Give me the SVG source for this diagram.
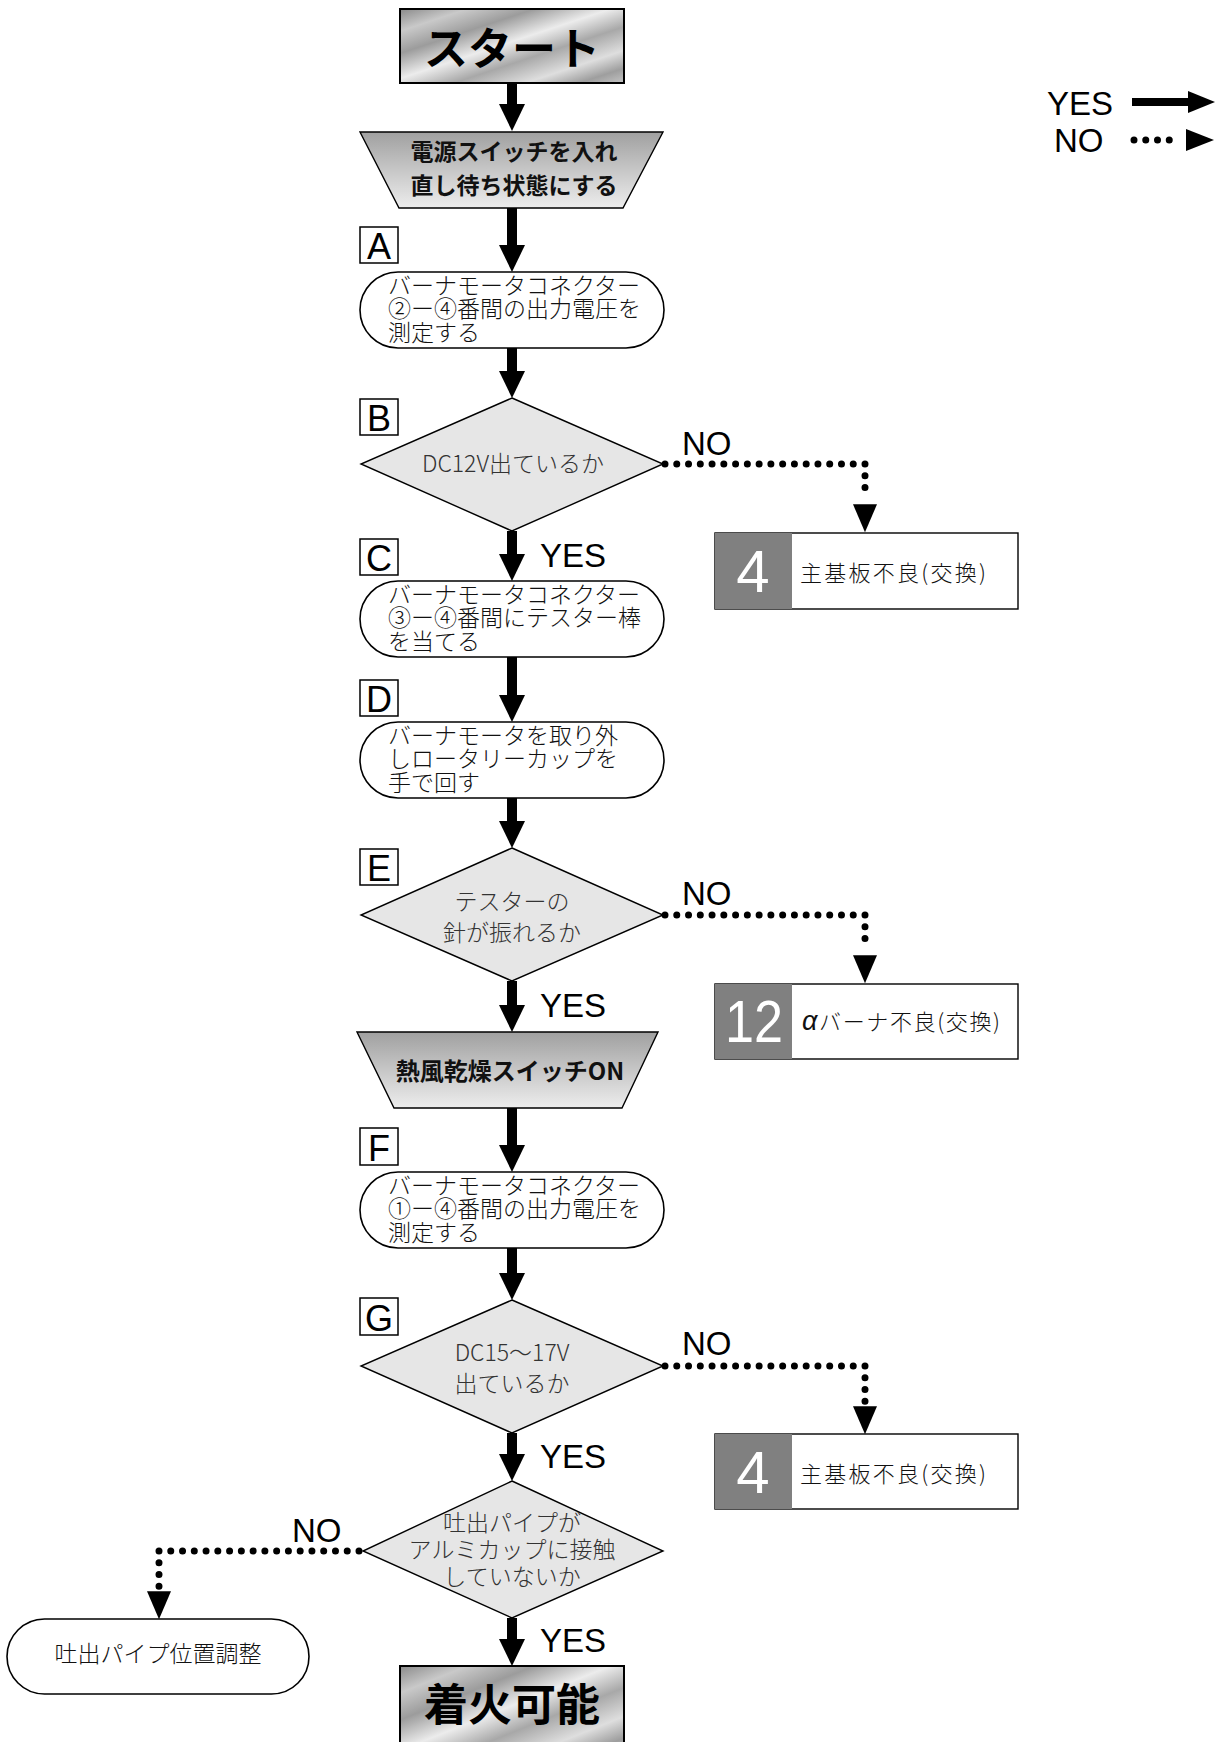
<svg xmlns="http://www.w3.org/2000/svg" width="1223" height="1742" viewBox="0 0 1223 1742">
<defs>
<linearGradient id="metal" x1="0" y1="0" x2="1" y2="1">
<stop offset="0" stop-color="#8a8a8a"/>
<stop offset="0.15" stop-color="#c9c9c9"/>
<stop offset="0.3" stop-color="#9c9c9c"/>
<stop offset="0.47" stop-color="#ececec"/>
<stop offset="0.62" stop-color="#a8a8a8"/>
<stop offset="0.78" stop-color="#dedede"/>
<stop offset="0.9" stop-color="#9e9e9e"/>
<stop offset="1" stop-color="#c4c4c4"/>
</linearGradient>
<linearGradient id="trap" x1="0" y1="0" x2="0" y2="1">
<stop offset="0" stop-color="#a0a0a0"/>
<stop offset="1" stop-color="#ededed"/>
</linearGradient>
<marker id="ah" markerUnits="userSpaceOnUse" markerWidth="30" markerHeight="28" refX="1" refY="13" orient="auto" overflow="visible"><path d="M0,0 L27,13 L0,26 z" fill="#000"/></marker>
<marker id="dh" markerUnits="userSpaceOnUse" markerWidth="30" markerHeight="26" refX="-5" refY="12" orient="auto" overflow="visible"><path d="M0,0 L28,12 L0,24 z" fill="#000"/></marker>
<marker id="ahs" markerUnits="userSpaceOnUse" markerWidth="30" markerHeight="24" refX="1" refY="11" orient="auto" overflow="visible"><path d="M0,0 L27,11 L0,22 z" fill="#000"/></marker>
<marker id="dhs" markerUnits="userSpaceOnUse" markerWidth="30" markerHeight="24" refX="-5" refY="11" orient="auto" overflow="visible"><path d="M0,0 L28,11 L0,22 z" fill="#000"/></marker>
</defs>
<style>
.jp{font-family:"Noto Sans CJK JP","Noto Sans",sans-serif;}
.lat{font-family:"Liberation Sans",Arial,sans-serif;}
.pill{fill:#fff;stroke:#000;stroke-width:1.6;}
.dia{fill:#e6e6e6;stroke:#000;stroke-width:1.4;}
.trap{fill:url(#trap);stroke:#000;stroke-width:1.4;}
.metal{fill:url(#metal);stroke:#000;stroke-width:2;}
.lbl{fill:#fff;stroke:#000;stroke-width:1.5;}
.res{fill:#fff;stroke:#000;stroke-width:1.4;}
.num{fill:#808080;}
.solid{fill:none;stroke:#000;stroke-width:10;marker-end:url(#ah);}
.dot{fill:none;stroke:#000;stroke-width:7;stroke-linecap:round;stroke-dasharray:0 11.765;marker-end:url(#dh);}
.t23{font-size:23px;fill:#111;font-weight:300;}
.dt{font-size:23px;fill:#333;text-anchor:middle;font-weight:300;}
.yn{font-size:33px;fill:#000;}
.letter{font-size:36px;text-anchor:middle;fill:#000;}
</style>
<rect width="1223" height="1742" fill="#fff"/>

<g id="legend">
<text class="lat yn" x="1047" y="115">YES</text>
<text class="lat yn" x="1054" y="152">NO</text>
<path d="M1132 102 H1189" fill="none" stroke="#000" stroke-width="8" marker-end="url(#ahs)"/>
<path d="M1134 140 H1181" fill="none" stroke="#000" stroke-width="7" stroke-linecap="round" stroke-dasharray="0 11.75" marker-end="url(#dhs)"/>
</g>

<g id="connectors">
<path class="solid" d="M512 83 V105"/>
<path class="solid" d="M512 208 V246"/>
<path class="solid" d="M512 348 V372"/>
<path class="solid" d="M512 531 V555"/>
<path class="solid" d="M512 657 V696"/>
<path class="solid" d="M512 798 V822"/>
<path class="solid" d="M512 981 V1006"/>
<path class="solid" d="M512 1108 V1146"/>
<path class="solid" d="M512 1248 V1274"/>
<path class="solid" d="M512 1433 V1455"/>
<path class="solid" d="M512 1618 V1640"/>
<path class="dot" d="M665 464 H865 V499.3"/>
<path class="dot" d="M665 915 H865 V950.3"/>
<path class="dot" d="M665 1366 H865 V1401.3"/>
<path class="dot" d="M359 1551 H159 V1586.3"/>
<text class="lat yn" x="682" y="455">NO</text>
<text class="lat yn" x="540" y="567">YES</text>
<text class="lat yn" x="682" y="905">NO</text>
<text class="lat yn" x="540" y="1017">YES</text>
<text class="lat yn" x="682" y="1355">NO</text>
<text class="lat yn" x="540" y="1468">YES</text>
<text class="lat yn" x="292" y="1542">NO</text>
<text class="lat yn" x="540" y="1652">YES</text>
</g>

<g id="start">
<rect class="metal" x="400" y="9" width="224" height="74"/>
<text class="jp" x="512" y="65" font-size="44" font-weight="bold" text-anchor="middle">スタート</text>
</g>

<g id="power">
<polygon class="trap" points="360,132 663,132 623,208 399,208"/>
<text class="jp" x="514" y="160" font-size="23" font-weight="bold" text-anchor="middle" fill="#111">電源スイッチを入れ</text>
<text class="jp" x="514" y="194" font-size="23" font-weight="bold" text-anchor="middle" fill="#111">直し待ち状態にする</text>
</g>

<g id="stepA">
<rect class="lbl" x="360" y="227" width="38" height="36"/>
<text class="lat letter" x="379" y="259">A</text>
<rect class="pill" x="360" y="272" width="304" height="76" rx="38" ry="38"/>
<text class="jp t23" x="388" y="294">バーナモータコネクター</text>
<text class="jp t23" x="388" y="317">②ー④番間の出力電圧を</text>
<text class="jp t23" x="388" y="341">測定する</text>
</g>

<g id="stepB">
<rect class="lbl" x="360" y="399" width="38" height="36"/>
<text class="lat letter" x="379" y="431">B</text>
<polygon class="dia" points="512,398 663,464 512,531 361,464"/>
<text class="jp dt" x="513" y="472">DC12V出ているか</text>
</g>

<g id="result4a">
<rect class="res" x="715" y="533" width="303" height="76"/>
<rect class="num" x="715" y="533" width="77" height="76"/>
<text class="lat" x="753" y="592" font-size="60" fill="#fff" text-anchor="middle">4</text>
<text class="jp" x="800" y="581" font-size="22" fill="#111" font-weight="300" textLength="186">主基板不良(交換)</text>
</g>

<g id="stepC">
<rect class="lbl" x="360" y="539" width="38" height="36"/>
<text class="lat letter" x="379" y="571">C</text>
<rect class="pill" x="360" y="581" width="304" height="76" rx="38" ry="38"/>
<text class="jp t23" x="388" y="603">バーナモータコネクター</text>
<text class="jp t23" x="388" y="626">③ー④番間にテスター棒</text>
<text class="jp t23" x="388" y="650">を当てる</text>
</g>

<g id="stepD">
<rect class="lbl" x="360" y="680" width="38" height="36"/>
<text class="lat letter" x="379" y="712">D</text>
<rect class="pill" x="360" y="722" width="304" height="76" rx="38" ry="38"/>
<text class="jp t23" x="388" y="744">バーナモータを取り外</text>
<text class="jp t23" x="388" y="767">しロータリーカップを</text>
<text class="jp t23" x="388" y="791">手で回す</text>
</g>

<g id="stepE">
<rect class="lbl" x="360" y="849" width="38" height="36"/>
<text class="lat letter" x="379" y="881">E</text>
<polygon class="dia" points="512,848 663,915 512,981 361,915"/>
<text class="jp dt" x="512" y="910">テスターの</text>
<text class="jp dt" x="512" y="941">針が振れるか</text>
</g>

<g id="result12">
<rect class="res" x="715" y="984" width="303" height="75"/>
<rect class="num" x="715" y="984" width="77" height="75"/>
<text class="lat" x="754" y="1042" font-size="60" fill="#fff" text-anchor="middle" textLength="58" lengthAdjust="spacingAndGlyphs">12</text>
<text class="jp" x="802" y="1030" font-size="22" fill="#111" font-weight="300" textLength="198"><tspan class="lat" font-style="italic" font-size="27">α</tspan>バーナ不良(交換)</text>
</g>

<g id="hotair">
<polygon class="trap" points="357,1032 658,1032 622,1108 394,1108"/>
<text class="jp" x="510" y="1080" font-size="24" font-weight="bold" text-anchor="middle" fill="#111">熱風乾燥スイッチON</text>
</g>

<g id="stepF">
<rect class="lbl" x="360" y="1128" width="38" height="37"/>
<text class="lat letter" x="379" y="1161">F</text>
<rect class="pill" x="360" y="1172" width="304" height="76" rx="38" ry="38"/>
<text class="jp t23" x="388" y="1194">バーナモータコネクター</text>
<text class="jp t23" x="388" y="1217">①ー④番間の出力電圧を</text>
<text class="jp t23" x="388" y="1241">測定する</text>
</g>

<g id="stepG">
<rect class="lbl" x="360" y="1298" width="38" height="37"/>
<text class="lat letter" x="379" y="1331">G</text>
<polygon class="dia" points="512,1300 663,1366 512,1433 361,1366"/>
<text class="jp dt" x="512" y="1361">DC15～17V</text>
<text class="jp dt" x="512" y="1392">出ているか</text>
</g>

<g id="result4b">
<rect class="res" x="715" y="1434" width="303" height="75"/>
<rect class="num" x="715" y="1434" width="77" height="75"/>
<text class="lat" x="753" y="1493" font-size="60" fill="#fff" text-anchor="middle">4</text>
<text class="jp" x="800" y="1482" font-size="22" fill="#111" font-weight="300" textLength="186">主基板不良(交換)</text>
</g>

<g id="stepH">
<polygon class="dia" points="512,1481 663,1551 512,1618 363,1551"/>
<text class="jp dt" x="512" y="1531">吐出パイプが</text>
<text class="jp dt" x="512" y="1558">アルミカップに接触</text>
<text class="jp dt" x="512" y="1585">していないか</text>
</g>

<g id="adjust">
<rect class="pill" x="7" y="1619" width="302" height="75" rx="37.5" ry="37.5"/>
<text class="jp" x="158" y="1662" font-size="23" fill="#111" font-weight="300" text-anchor="middle">吐出パイプ位置調整</text>
</g>

<g id="end">
<rect class="metal" x="400" y="1666" width="224" height="90"/>
<text class="jp" x="512" y="1721" font-size="44" font-weight="bold" text-anchor="middle">着火可能</text>
</g>
</svg>
